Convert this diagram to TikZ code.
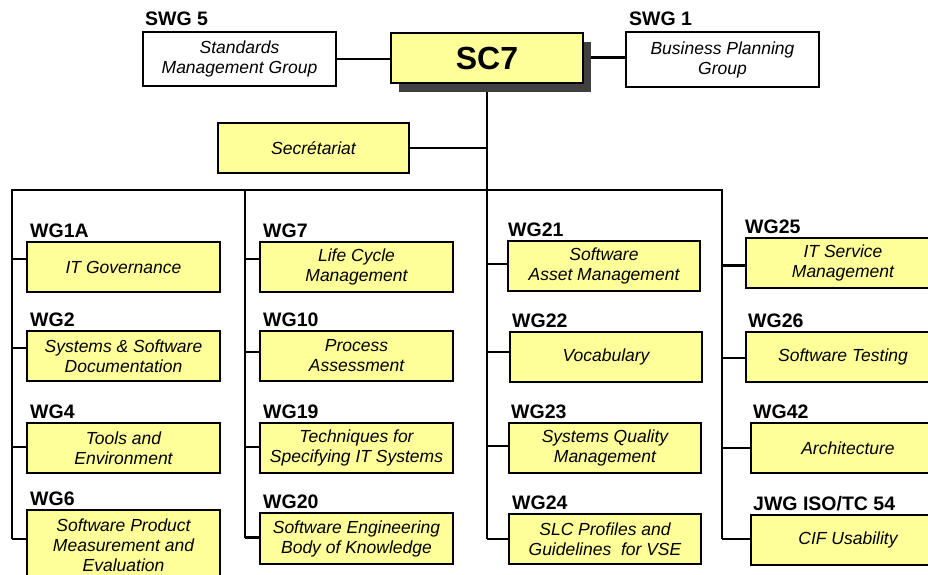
\documentclass[tikz,border=0pt]{standalone}
\usepackage{fontspec}
\setmainfont{Liberation Sans}
\usetikzlibrary{shadows,backgrounds}
\definecolor{boxyellow}{HTML}{FFFF99}
\begin{document}
\begin{tikzpicture}[x=1pt,y=-1pt,
  base/.style={draw=black,line width=2.8pt,inner sep=0pt,outer sep=0pt,anchor=north west,align=center,
    font=\fontsize{17.5}{20}\selectfont\itshape},
  wg/.style={base,fill=boxyellow,minimum width=193pt,minimum height=50pt},
  sg/.style={base,fill=white,minimum width=193pt,minimum height=54pt},
  lab/.style={anchor=base west,inner sep=0pt,font=\fontsize{19.5}{19.5}\selectfont\bfseries},
  conn/.style={line width=2.4pt}]
\useasboundingbox (0,0) rectangle (928,574);
\clip (0,0) rectangle (928,574);

% top level
\node[wg,minimum width=192pt,font=\fontsize{32}{32}\selectfont\bfseries,
  drop shadow={shadow xshift=8pt,shadow yshift=-9pt,fill=black!75,opacity=1}] (sc7) at (391,33) {SC7};
\node[sg] (swg5) at (143,32) {Standards\\Management Group};
\node[lab] (l5) at (145,25) {SWG 5};
\node[sg,minimum height=55pt] (swg1) at (626,32) {Business Planning\\Group};
\node[lab] (l1) at (629,25) {SWG 1};
\node[wg,minimum width=191pt] (sec) at (218,123) {Secrétariat};

% column 1
\node[wg] (wg1a) at (27,242) {IT Governance};
\node[lab] at (30,237) {WG1A};
\node[wg] (wg2) at (27,331) {Systems \& Software\\Documentation};
\node[lab] at (30,326) {WG2};
\node[wg] (wg4) at (27,423) {Tools and\\Environment};
\node[lab] at (30,418) {WG4};
\node[wg,minimum height=70pt] (wg6) at (27,510) {Software Product\\Measurement and\\Evaluation};
\node[lab] at (30,505) {WG6};

% column 2
\node[wg] (wg7) at (260,242) {Life Cycle\\Management};
\node[lab] at (263,237) {WG7};
\node[wg] (wg10) at (260,331) {Process\\Assessment};
\node[lab] at (263,326) {WG10};
\node[wg] (wg19) at (260,423) {Techniques for\\Specifying IT Systems};
\node[lab] at (263,418) {WG19};
\node[wg,minimum height=51pt] (wg20) at (260,513) {Software Engineering\\Body of Knowledge};
\node[lab] at (263,508) {WG20};

% column 3
\node[wg,minimum width=192pt] (wg21) at (508,241) {Software\\Asset Management};
\node[lab] at (508,236) {WG21};
\node[wg,minimum width=192pt] (wg22) at (510,332) {Vocabulary};
\node[lab] at (512,327) {WG22};
\node[wg,minimum width=192pt] (wg23) at (509,423) {Systems Quality\\Management};
\node[lab] at (511,418) {WG23};
\node[wg,minimum width=192pt] (wg24) at (509,514) {SLC Profiles and\\Guidelines\ \ for VSE};
\node[lab] at (512,509) {WG24};

% column 4
\node[wg,minimum width=194pt] (wg25) at (746,238) {IT Service\\Management};
\node[lab] at (745,233) {WG25};
\node[wg,minimum width=194pt] (wg26) at (746,332) {Software Testing};
\node[lab] at (748,327) {WG26};
\node[wg,minimum width=194pt] (wg42) at (751,423) {Architecture};
\node[lab] at (753,418) {WG42};
\node[wg,minimum width=194pt] (jwg) at (751,515) {CIF Usability};
\node[lab] at (753,510) {JWG ISO/TC 54};

% connector points
\coordinate (c-wg1a) at ([yshift=8pt]wg1a.west);
\coordinate (c-wg2) at ([yshift=8pt]wg2.west);
\coordinate (c-wg4) at ([yshift=1pt]wg4.west);
\coordinate (c-wg6) at ([yshift=6pt]wg6.west);
\coordinate (c-wg7) at ([yshift=8pt]wg7.west);
\coordinate (c-wg10) at ([yshift=4pt]wg10.west);
\coordinate (c-wg19) at ([yshift=1pt]wg19.west);
\coordinate (c-wg20) at ([yshift=1pt]wg20.west);
\coordinate (c-wg21) at ([yshift=2pt]wg21.west);
\coordinate (c-wg22) at ([yshift=5pt]wg22.west);
\coordinate (c-wg23) at ([yshift=2pt]wg23.west);
\coordinate (c-wg24) at (wg24.west);
\coordinate (c-wg25) at ([yshift=-2.5pt]wg25.west);
\coordinate (c-wg26) at ([yshift=-1pt]wg26.west);
\coordinate (c-wg42) at (wg42.west);
\coordinate (c-jwg) at ([yshift=1pt]jwg.west);

\coordinate (b1) at (12,190);
\coordinate (b2) at (245,190);
\coordinate (b3) at (sc7.south |- b1);
\coordinate (b4) at (722,190);

\begin{scope}[on background layer]
  \draw[conn] (swg5.east) -- (swg5.east -| sc7.west);
  \draw[conn] ([yshift=2pt]sc7.east |- swg1.west) -- ([yshift=2pt]swg1.west);
  \draw[conn] (sc7.south) -- (b3) -- (b3 |- c-wg24);
  \draw[conn] (sec.east) -- (sc7.south |- sec.east);
  \draw[conn,line join=miter] (b1 |- c-wg6) -- (b1) -- (b4) -- (b4 |- c-jwg);
  \draw[conn] (b2) -- (b2 |- c-wg20);
  \foreach \n in {wg1a,wg2,wg4,wg6}{\draw[conn] (b1 |- c-\n) -- (c-\n);}
  \foreach \n in {wg7,wg10,wg19,wg20}{\draw[conn] (b2 |- c-\n) -- (c-\n);}
  \foreach \n in {wg21,wg22,wg23,wg24}{\draw[conn] (b3 |- c-\n) -- (c-\n);}
  \foreach \n in {wg25,wg26,wg42,jwg}{\draw[conn] (b4 |- c-\n) -- (c-\n);}
\end{scope}
\end{tikzpicture}
\end{document}
